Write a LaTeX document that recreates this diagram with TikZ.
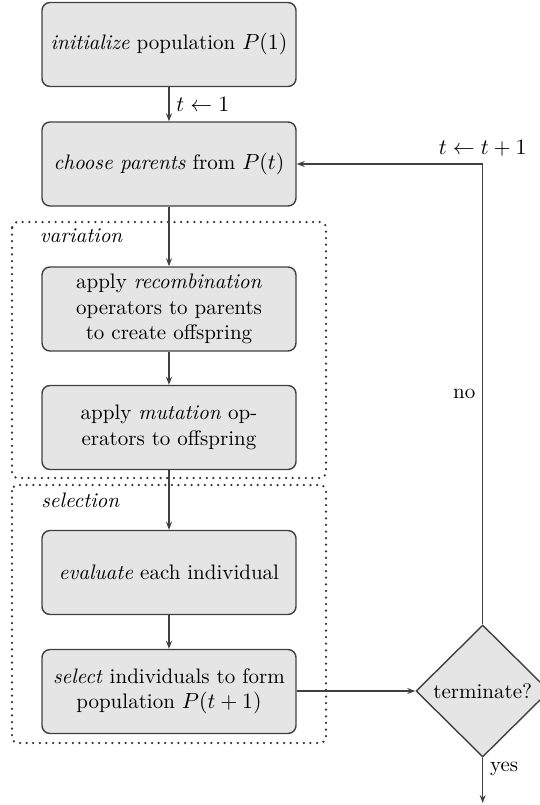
\documentclass[tikz,border=0pt]{standalone}
\usetikzlibrary{shapes.geometric,arrows.meta}
\begin{document}
\begin{tikzpicture}[x=0.5pt,y=-0.5pt,
  font=\fontsize{10.5}{12.75}\selectfont,
  stepbox/.style={draw=black!75, fill=black!10, line width=0.7pt, rounded corners=4pt,
    minimum width=127pt, minimum height=42pt, align=center, inner sep=0pt},
  decision/.style={diamond, draw=black!75, fill=black!10, line width=0.7pt,
    minimum width=66.7pt, minimum height=66pt, inner sep=0pt},
  flow/.style={draw=black!75, line width=0.7pt, -{Stealth[length=4pt,width=3pt]}},
  group/.style={draw=black!80, line width=1.25pt, dash pattern=on 0pt off 3.3pt,
    line cap=round, rounded corners=3pt},
  grouplabel/.style={anchor=base west, inner sep=0pt, font=\fontsize{10.5}{12.75}\selectfont\itshape},
]
\clip (0,0) rectangle (540,805);

% dotted groups
\draw[group] (12,222) rectangle (326,478);
\draw[group] (12,485) rectangle (326,743);
\node[grouplabel] (varlabel) at (39.5,242) {variation};
\node[grouplabel] (sellabel) at (41,507) {selection};

% process steps
\node[stepbox] (init)   at (169,44.5)  {\textit{initialize} population $P(1)$};
\node[stepbox] (choose) at (169,164)   {\textit{choose parents} from $P(t)$};
\node[stepbox] (recomb) at (169,309)   {apply \textit{recombination}\\operators to parents\\to create offspring};
\node[stepbox] (mutate) at (169,427.5) {apply \textit{mutation} op-\\erators to offspring};
\node[stepbox] (eval)   at (169,572.5) {\textit{evaluate} each individual};
\node[stepbox] (select) at (169,691.5) {\textit{select} individuals to form\\population $P(t+1)$};
\node[decision] (term)  at (482.7,691) {terminate?};
\coordinate (done) at (482.7,803);

% connectors
\draw[flow] (init) -- node[right] (tone) {$t\leftarrow 1$} (choose);
\draw[flow] (choose) -- (recomb);
\draw[flow] (recomb) -- (mutate);
\draw[flow] (mutate) -- (eval);
\draw[flow] (eval) -- (select);
\draw[flow] (select.east |- term.west) -- (term.west);
\draw[flow] (term.north) |- node[pos=0.25, left] (no) {no}
  node[pos=0.5, above] (tinc) {$t\leftarrow t+1$} (choose.east);
\draw[flow] (term.south) -- node[pos=0.25, right] (yes) {yes} (done);
\end{tikzpicture}
\end{document}
